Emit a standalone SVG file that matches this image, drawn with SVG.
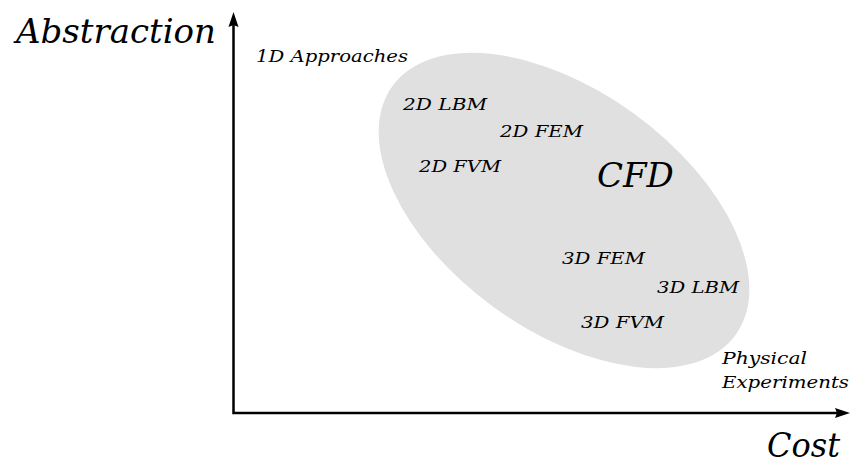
<svg xmlns="http://www.w3.org/2000/svg" width="851" height="463" viewBox="0 0 851 463">
<style>
text{font-family:"DejaVu Serif",serif;font-style:italic;fill:#000}
.lbl{font-size:17.5px}
.big{font-size:34px}
.axis{fill:none;stroke:#000;stroke-width:2.5;stroke-linejoin:miter}
.head{fill:#000}
</style>
<rect width="851" height="463" fill="#fff"/>
<g id="cfd-region">
<ellipse cx="564" cy="210.5" rx="212" ry="119.5" transform="rotate(36 564 210.5)" fill="#e0e0e0"/>
<text class="big" x="597" y="187">CFD</text>
</g>
<g id="axes">
<path class="axis" d="M233.5,24 V413 H838"/>
<path class="head" d="M233.5,12 L238.5,27 L233.5,25 L228.5,27 Z"/>
<path class="head" d="M850,413 L835,418 L837,413 L835,408 Z"/>
<text class="big" x="16" y="43">Abstraction</text>
<text x="767" y="457" style="font-size:33px" textLength="73" lengthAdjust="spacingAndGlyphs">Cost</text>
</g>
<g id="n-1d"><text class="lbl" x="256" y="62" textLength="152" lengthAdjust="spacingAndGlyphs">1D Approaches</text></g>
<g id="n-2dlbm"><text class="lbl" x="403" y="110" textLength="84" lengthAdjust="spacingAndGlyphs">2D LBM</text></g>
<g id="n-2dfem"><text class="lbl" x="500" y="137" textLength="83" lengthAdjust="spacingAndGlyphs">2D FEM</text></g>
<g id="n-2dfvm"><text class="lbl" x="419" y="172" textLength="82" lengthAdjust="spacingAndGlyphs">2D FVM</text></g>
<g id="n-3dfem"><text class="lbl" x="562" y="264" textLength="83" lengthAdjust="spacingAndGlyphs">3D FEM</text></g>
<g id="n-3dlbm"><text class="lbl" x="657" y="293" textLength="82" lengthAdjust="spacingAndGlyphs">3D LBM</text></g>
<g id="n-3dfvm"><text class="lbl" x="581" y="328" textLength="83" lengthAdjust="spacingAndGlyphs">3D FVM</text></g>
<g id="n-phys"><text class="lbl" x="722" y="364" textLength="85" lengthAdjust="spacingAndGlyphs">Physical</text><text class="lbl" x="722" y="388" textLength="127" lengthAdjust="spacingAndGlyphs">Experiments</text></g>
</svg>
